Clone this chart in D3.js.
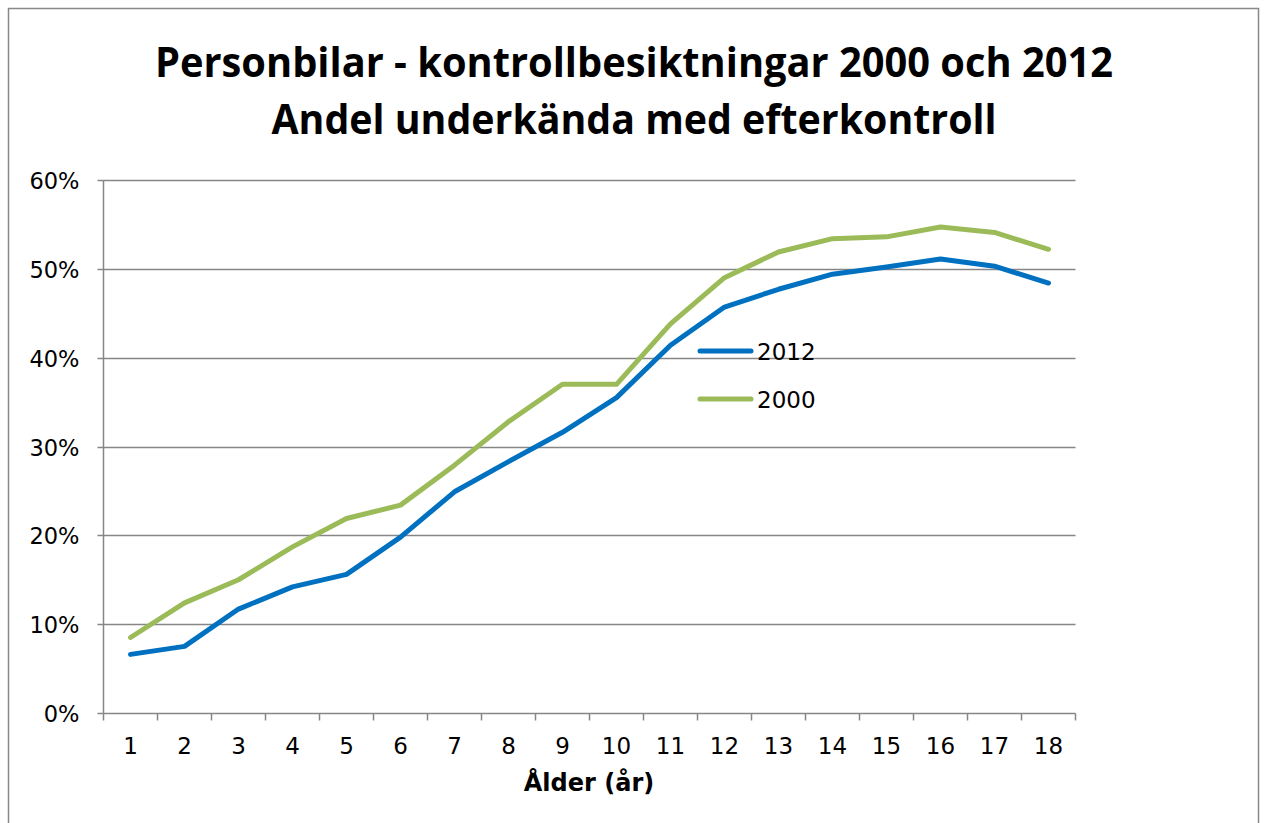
<!DOCTYPE html>
<html>
<head>
<meta charset="utf-8">
<script src="https://cdn.jsdelivr.net/npm/d3@7"></script>
<style>
  html, body { margin: 0; padding: 0; background: #fff; }
  svg { display: block; }
  .dv { font-family: "DejaVu Sans", Verdana, sans-serif; }
</style>
</head>
<body>
<svg id="chart" width="1267" height="823"></svg>
<script>
const categories = ["1","2","3","4","5","6","7","8","9","10","11","12","13","14","15","16","17","18"];
const values2012 = [6.6, 7.5, 11.7, 14.2, 15.6, 19.8, 24.9, 28.3, 31.6, 35.5, 41.4, 45.7, 47.7, 49.4, 50.2, 51.1, 50.3, 48.4];
const values2000 = [8.5, 12.4, 15.0, 18.7, 21.9, 23.4, 27.9, 32.8, 37.0, 37.0, 43.8, 49.0, 51.9, 53.4, 53.6, 54.7, 54.1, 52.2];
const yTicks = [0, 10, 20, 30, 40, 50, 60];
const seriesNames = ["2012", "2000"];
const titleLines = ["Personbilar - kontrollbesiktningar 2000 och 2012", "Andel underkända med efterkontroll"];
const xTitle = "Ålder (år)";

(function () {
const colors = { "2012": "#0070C0", "2000": "#9BBB59" };
const series = [
  { name: "2012", values: values2012 },
  { name: "2000", values: values2000 }
];

const svg = d3.select("#chart");

// outer border
svg.append("rect").attr("x", 8.5).attr("y", 8.5).attr("width", 1250).attr("height", 830)
  .attr("fill", "#fff").attr("stroke", "#888").attr("stroke-width", 1.5);

// title
const titleWidths = [958, 725];
const titleBase = [77, 134];
titleLines.forEach((t, i) => {
  svg.append("text")
    .attr("x", 634).attr("y", titleBase[i])
    .attr("text-anchor", "middle")
    .style("font-family", "'Open Sans', sans-serif")
    .attr("font-weight", "bold")
    .attr("font-size", 41)
    .attr("textLength", titleWidths[i])
    .attr("lengthAdjust", "spacingAndGlyphs")
    .attr("fill", "#000")
    .text(t);
});

const pL = 103.5, pR = 1075.5, pT = 180, pB = 713;
const x = d3.scaleBand().domain(categories).range([pL, pR]).padding(0);
const y = d3.scaleLinear().domain([0, 60]).range([pB, pT]);

const gridColor = "#868686";

// gridlines
svg.append("g").selectAll("line").data(yTicks.filter(d => d > 0)).join("line")
  .attr("x1", pL).attr("x2", pR)
  .attr("y1", d => Math.round(y(d)) + 0.5).attr("y2", d => Math.round(y(d)) + 0.5)
  .attr("stroke", gridColor).attr("stroke-width", 1.5);

// y axis
const yAxis = d3.axisLeft(y).tickValues(yTicks).tickFormat(d => d + "%").tickSize(6).tickPadding(18);
const gy = svg.append("g").attr("transform", `translate(${pL},0)`).call(yAxis);
gy.attr("font-family", null).attr("font-size", null);
gy.select(".domain").attr("stroke", gridColor).attr("stroke-width", 1.5).attr("d", `M0,${pT}V${pB}`);
gy.selectAll(".tick line").attr("stroke", gridColor).attr("stroke-width", 1.5);
gy.selectAll(".tick text").attr("class", "dv").attr("font-size", 22.5).attr("fill", "#000")
  .attr("dy", "0.36em");
gy.selectAll(".tick").attr("transform", d => `translate(0,${Math.round(y(d)) + 0.5})`);

// x axis
const boundaries = categories.map(c => x(c)).concat([pR]);
const gx = svg.append("g").attr("transform", `translate(0,${pB + 0.5})`);
gx.append("line").attr("x1", pL).attr("x2", pR).attr("y1", 0).attr("y2", 0)
  .attr("stroke", gridColor).attr("stroke-width", 1.5);
gx.selectAll("line.tk").data(boundaries).join("line").attr("class", "tk")
  .attr("x1", d => d).attr("x2", d => d).attr("y1", 0).attr("y2", 7)
  .attr("stroke", gridColor).attr("stroke-width", 1.5);
gx.selectAll("text").data(categories).join("text")
  .attr("class", "dv")
  .attr("x", d => x(d) + x.bandwidth() / 2).attr("y", 40.5)
  .attr("text-anchor", "middle")
  .attr("font-size", 23).attr("fill", "#000")
  .text(d => d);

// x title
svg.append("text").attr("class", "dv").attr("x", 589).attr("y", 791)
  .attr("text-anchor", "middle").attr("font-weight", "bold")
  .attr("font-size", 24).attr("fill", "#000").text(xTitle);

// lines
const line = d3.line()
  .x((d, i) => x(categories[i]) + x.bandwidth() / 2)
  .y(d => y(d));
svg.append("g").selectAll("path").data(series.slice().reverse()).join("path")
  .attr("d", s => line(s.values))
  .attr("fill", "none")
  .attr("stroke", s => colors[s.name])
  .attr("stroke-width", 5)
  .attr("stroke-linejoin", "round")
  .attr("stroke-linecap", "round");

// legend
const legendY = [351, 399];
seriesNames.forEach((name, i) => {
  const g = svg.append("g");
  g.append("line").attr("x1", 700).attr("x2", 751).attr("y1", legendY[i]).attr("y2", legendY[i])
    .attr("stroke", colors[name]).attr("stroke-width", 5).attr("stroke-linecap", "round");
  g.append("text").attr("class", "dv").attr("x", 757).attr("y", legendY[i] + 8.5)
    .attr("font-size", 23).attr("fill", "#000").text(name);
});
})();
</script>
</body>
</html>
